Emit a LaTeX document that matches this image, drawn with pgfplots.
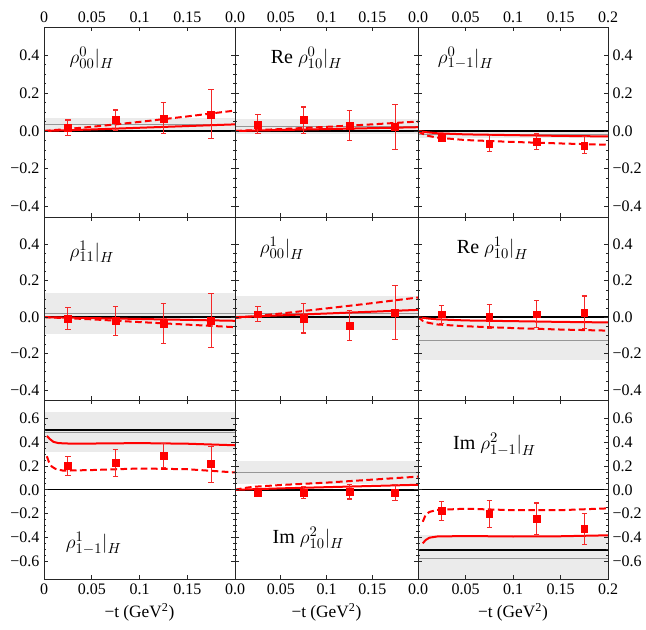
\documentclass[border=0pt]{standalone}
\usepackage{fontspec}
\setmainfont{Liberation Serif}
\usepackage{pgfplots}
\pgfplotsset{compat=1.18}

\definecolor{band}{RGB}{235,235,235}
\definecolor{gline}{RGB}{150,150,150}
\definecolor{ebar}{RGB}{245,40,40}

\tikzset{lab/.style={anchor=west, font=\rmfamily\fontsize{15}{18}\selectfont}}

\pgfplotsset{
  panel/.style={
    scale only axis, anchor=north west,
    xmin=0, xmax=0.2, xtick={0,0.05,0.1,0.15,0.2},
    tick align=inside, axis on top,
    axis line style={black!85, line width=0.6pt},
    every tick/.style={black!85, line width=0.5pt},
    major tick length=3pt, minor tick length=1.5pt,
    minor y tick num=3,
    ticklabel style={font=\rmfamily\fontsize{12}{12}\selectfont},
    xticklabels={}, yticklabels={},
  },
  row12/.style={ymin=-0.455, ymax=0.55, ytick={-0.4,-0.2,0,0.2,0.4}},
  row3/.style={ymin=-0.745, ymax=0.75, ytick={-0.6,-0.4,-0.2,0,0.2,0.4,0.6}},
  ylab12/.style={yticklabels={−0.4,−0.2,0.0,0.2,0.4}},
  ylab3/.style={yticklabels={−0.6,−0.4,−0.2,0.0,0.2,0.4,0.6}},
  xl/.style={xlabel={−t (GeV\textsuperscript{2})}, xlabel style={font=\rmfamily\fontsize{13}{13}\selectfont}},
  bandf/.style={draw=none, fill=band, mark=none},
  gl/.style={gline, line width=0.7pt, mark=none},
  bl/.style={black, line width=1.6pt, mark=none},
  zl/.style={black, line width=0.5pt, mark=none},
  rs/.style={red, line width=1.5pt, mark=none},
  rd/.style={red, line width=1.5pt, dash pattern=on 5pt off 2.6pt, mark=none},
  pts/.style={only marks, red, mark=square*, mark size=2.6pt,
    mark options={solid, fill=red, draw=red},
    error bars/.cd, y dir=both, y explicit, error mark=-,
    error bar style={draw=ebar, line width=0.8pt},
    error mark options={draw=ebar, rotate=90, mark size=2pt, line width=0.8pt}},
}

\begin{document}
\begin{tikzpicture}
\useasboundingbox (0,0) rectangle (484.5pt,-471.75pt);

% ---------------- row 1 ----------------
\begin{axis}[panel, row12, ylab12, at={(33pt,-20.25pt)}, width=143.25pt, height=142.5pt,
  xticklabel pos=right, xticklabels={0,0.05,0.1,0.15,{}}]
\addplot[bandf] coordinates {(0,0) (0.2,0) (0.2,0.067) (0,0.067)} -- cycle;
\addplot[gl] coordinates {(0,0.034) (0.2,0.034)};
\addplot[zl] coordinates {(0,0) (0.2,0)};
\addplot[bl] coordinates {(0,0) (0.2,0)};
\addplot[rs] coordinates {(0,0) (0.05,0.008) (0.1,0.017) (0.15,0.026) (0.2,0.035)};
\addplot[rd] coordinates {(0,0) (0.05,0.022) (0.1,0.048) (0.15,0.077) (0.2,0.108)};
\addplot[pts] coordinates {(0.025,0.018) +- (0,0.04) (0.075,0.058) +- (0,0.053)
  (0.125,0.067) +- (0,0.082) (0.175,0.088) +- (0,0.13)};
\node[lab] at (rel axis cs:0.11,0.837) {$\rho^{0}_{00}\big|_{H}$};
\end{axis}

\begin{axis}[panel, row12, at={(176.25pt,-20.25pt)}, width=137.25pt, height=142.5pt,
  xticklabel pos=right, xticklabels={0.0,0.05,0.1,0.15,{}}]
\addplot[bandf] coordinates {(0,-0.015) (0.2,-0.015) (0.2,0.065) (0,0.065)} -- cycle;
\addplot[gl] coordinates {(0,0.023) (0.2,0.023)};
\addplot[zl] coordinates {(0,0) (0.2,0)};
\addplot[bl] coordinates {(0,0) (0.2,0)};
\addplot[rs] coordinates {(0,0) (0.05,0.005) (0.1,0.01) (0.15,0.015) (0.2,0.02)};
\addplot[rd] coordinates {(0,0) (0.05,0.01) (0.1,0.022) (0.15,0.035) (0.2,0.05)};
\addplot[pts] coordinates {(0.025,0.035) +- (0,0.05) (0.075,0.057) +- (0,0.07)
  (0.125,0.028) +- (0,0.08) (0.175,0.021) +- (0,0.12)};
\node[lab] at (rel axis cs:0.17,0.837) {Re $\rho^{0}_{10}\big|_{H}$};
\end{axis}

\begin{axis}[panel, row12, ylab12, at={(313.5pt,-20.25pt)}, width=142.5pt, height=142.5pt,
  xticklabel pos=right, yticklabel pos=right, xticklabels={0.0,0.05,0.1,0.15,0.2}]
\addplot[bandf] coordinates {(0,-0.035) (0.2,-0.035) (0.2,0) (0,0)} -- cycle;
\addplot[gl] coordinates {(0,-0.017) (0.2,-0.017)};
\addplot[zl] coordinates {(0,0) (0.2,0)};
\addplot[bl] coordinates {(0,0) (0.2,0)};
\addplot[rs] coordinates {(0,0) (0.01,-0.007) (0.02,-0.012) (0.05,-0.018) (0.1,-0.022) (0.15,-0.026) (0.2,-0.029)};
\addplot[rd] coordinates {(0,-0.002) (0.005,-0.015) (0.01,-0.025) (0.02,-0.035) (0.05,-0.048) (0.1,-0.058) (0.15,-0.066) (0.2,-0.073)};
\addplot[pts] coordinates {(0.025,-0.037) +- (0,0.012) (0.075,-0.066) +- (0,0.042)
  (0.125,-0.056) +- (0,0.04) (0.175,-0.076) +- (0,0.045)};
\node[lab] at (rel axis cs:0.08,0.837) {$\rho^{0}_{1-1}\big|_{H}$};
\end{axis}

% ---------------- row 2 ----------------
\begin{axis}[panel, row12, ylab12, at={(33pt,-162.75pt)}, width=143.25pt, height=137.25pt]
\addplot[bandf] coordinates {(0,-0.09) (0.2,-0.09) (0.2,0.135) (0,0.135)} -- cycle;
\addplot[gl] coordinates {(0,0.02) (0.2,0.02)};
\addplot[zl] coordinates {(0,0) (0.2,0)};
\addplot[bl] coordinates {(0,0) (0.2,0)};
\addplot[rs] coordinates {(0,0) (0.05,-0.005) (0.1,-0.01) (0.15,-0.015) (0.2,-0.02)};
\addplot[rd] coordinates {(0,0) (0.05,-0.012) (0.1,-0.027) (0.15,-0.041) (0.2,-0.055)};
\addplot[pts] coordinates {(0.025,-0.009) +- (0,0.06) (0.075,-0.02) +- (0,0.08)
  (0.125,-0.037) +- (0,0.11) (0.175,-0.018) +- (0,0.15)};
\node[lab] at (rel axis cs:0.11,0.81) {$\rho^{1}_{11}\big|_{H}$};
\end{axis}

\begin{axis}[panel, row12, at={(176.25pt,-162.75pt)}, width=137.25pt, height=137.25pt]
\addplot[bandf] coordinates {(0,-0.073) (0.2,-0.073) (0.2,0.117) (0,0.117)} -- cycle;
\addplot[gl] coordinates {(0,0.022) (0.2,0.022)};
\addplot[zl] coordinates {(0,0) (0.2,0)};
\addplot[bl] coordinates {(0,0) (0.2,0)};
\addplot[rs] coordinates {(0,0) (0.05,0.01) (0.1,0.02) (0.15,0.03) (0.2,0.04)};
\addplot[rd] coordinates {(0,-0.005) (0.05,0.02) (0.1,0.048) (0.15,0.077) (0.2,0.108)};
\addplot[pts] coordinates {(0.025,0.016) +- (0,0.04) (0.075,-0.007) +- (0,0.08)
  (0.125,-0.046) +- (0,0.08) (0.175,0.026) +- (0,0.15)};
\node[lab] at (rel axis cs:0.11,0.83) {$\rho^{1}_{00}\big|_{H}$};
\end{axis}

\begin{axis}[panel, row12, ylab12, at={(313.5pt,-162.75pt)}, width=142.5pt, height=137.25pt,
  yticklabel pos=right]
\addplot[bandf] coordinates {(0,-0.237) (0.2,-0.237) (0.2,-0.023) (0,-0.023)} -- cycle;
\addplot[gl] coordinates {(0,-0.13) (0.2,-0.13)};
\addplot[zl] coordinates {(0,0) (0.2,0)};
\addplot[bl] coordinates {(0,0) (0.2,0)};
\addplot[rs] coordinates {(0,0) (0.01,-0.007) (0.02,-0.012) (0.05,-0.018) (0.1,-0.022) (0.15,-0.026) (0.2,-0.029)};
\addplot[rd] coordinates {(0,0) (0.005,-0.02) (0.01,-0.03) (0.02,-0.04) (0.05,-0.05) (0.1,-0.06) (0.15,-0.068) (0.2,-0.074)};
\addplot[pts] coordinates {(0.025,0.016) +- (0,0.05) (0.075,0.004) +- (0,0.065)
  (0.125,0.016) +- (0,0.075) (0.175,0.026) +- (0,0.09)};
\node[lab] at (rel axis cs:0.18,0.83) {Re $\rho^{1}_{10}\big|_{H}$};
\end{axis}

% ---------------- row 3 ----------------
\begin{axis}[panel, row3, ylab3, xl, at={(33pt,-300pt)}, width=143.25pt, height=134.25pt,
  xticklabels={0,0.05,0.1,0.15,{}}]
\addplot[bandf] coordinates {(0,0.317) (0.2,0.317) (0.2,0.65) (0,0.65)} -- cycle;
\addplot[gl] coordinates {(0,0.483) (0.2,0.483)};
\addplot[zl] coordinates {(0,0) (0.2,0)};
\addplot[bl] coordinates {(0,0.5) (0.2,0.5)};
\addplot[rs] coordinates {(0.003,0.45) (0.006,0.425) (0.01,0.4) (0.015,0.39) (0.03,0.385) (0.1,0.39) (0.15,0.385) (0.2,0.372)};
\addplot[rd] coordinates {(0.003,0.28) (0.005,0.235) (0.008,0.195) (0.012,0.175) (0.02,0.16) (0.05,0.165) (0.1,0.178) (0.15,0.172) (0.2,0.145)};
\addplot[pts] coordinates {(0.025,0.2) +- (0,0.08) (0.075,0.225) +- (0,0.11)
  (0.125,0.283) +- (0,0.1) (0.175,0.214) +- (0,0.15)};
\node[lab] at (rel axis cs:0.09,0.2) {$\rho^{1}_{1-1}\big|_{H}$};
\end{axis}

\begin{axis}[panel, row3, xl, at={(176.25pt,-300pt)}, width=137.25pt, height=134.25pt,
  xticklabels={0.0,0.05,0.1,0.15,{}}]
\addplot[bandf] coordinates {(0,0.05) (0.2,0.05) (0.2,0.24) (0,0.24)} -- cycle;
\addplot[gl] coordinates {(0,0.144) (0.2,0.144)};
\addplot[zl] coordinates {(0,0) (0.2,0)};
\addplot[bl] coordinates {(0,0) (0.2,0)};
\addplot[rs] coordinates {(0,0) (0.05,0.012) (0.1,0.022) (0.15,0.032) (0.2,0.042)};
\addplot[rd] coordinates {(0,0) (0.01,0.015) (0.02,0.025) (0.05,0.04) (0.1,0.06) (0.15,0.085) (0.2,0.11)};
\addplot[pts] coordinates {(0.025,-0.022) +- (0,0.015) (0.075,-0.022) +- (0,0.05)
  (0.125,-0.017) +- (0,0.06) (0.175,-0.022) +- (0,0.07)};
\node[lab] at (rel axis cs:0.18,0.23) {Im $\rho^{2}_{10}\big|_{H}$};
\end{axis}

\begin{axis}[panel, row3, ylab3, xl, at={(313.5pt,-300pt)}, width=142.5pt, height=134.25pt,
  yticklabel pos=right, xticklabels={0.0,0.05,0.1,0.15,0.2}]
\addplot[bandf] coordinates {(0,-0.76) (0.2,-0.76) (0.2,-0.38) (0,-0.38)} -- cycle;
\addplot[gl] coordinates {(0,-0.572) (0.2,-0.572)};
\addplot[zl] coordinates {(0,0) (0.2,0)};
\addplot[bl] coordinates {(0,-0.503) (0.2,-0.503)};
\addplot[rs] coordinates {(0.005,-0.447) (0.008,-0.42) (0.012,-0.4) (0.02,-0.39) (0.05,-0.386) (0.1,-0.39) (0.15,-0.388) (0.2,-0.38)};
\addplot[rd] coordinates {(0.005,-0.267) (0.008,-0.21) (0.012,-0.185) (0.02,-0.168) (0.05,-0.158) (0.1,-0.17) (0.15,-0.17) (0.2,-0.155)};
\addplot[pts] coordinates {(0.025,-0.178) +- (0,0.08) (0.075,-0.203) +- (0,0.11)
  (0.125,-0.24) +- (0,0.13) (0.175,-0.325) +- (0,0.13)};
\node[lab] at (rel axis cs:0.16,0.75) {Im $\rho^{2}_{1-1}\big|_{H}$};
\end{axis}
\end{tikzpicture}
\end{document}
